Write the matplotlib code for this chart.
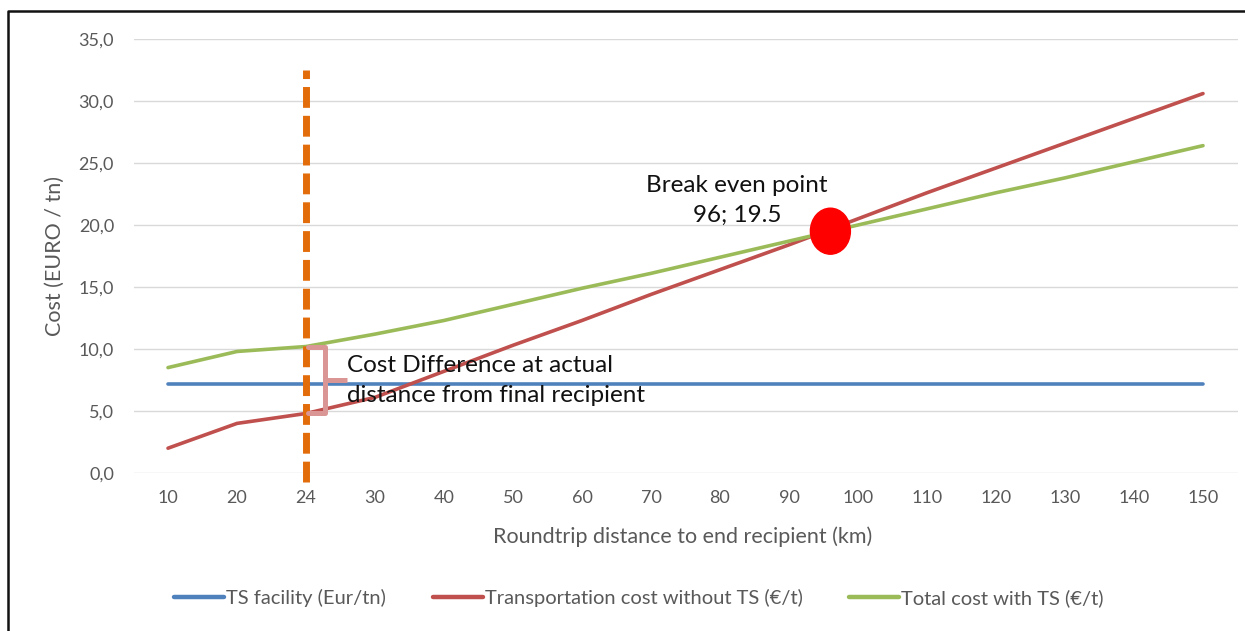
import numpy as np
import matplotlib
matplotlib.use("Agg")
import matplotlib.pyplot as plt
from matplotlib.patches import Ellipse
from matplotlib.lines import Line2D
from matplotlib.ticker import FuncFormatter

plt.rcParams["font.family"] = ["Lato", "DejaVu Sans"]

# Roundtrip distances (km), shown as equally spaced categories
distances = [10, 20, 24, 30, 40, 50, 60, 70, 80, 90, 100, 110, 120, 130, 140, 150]
ts_facility = [7.2, 7.2, 7.2, 7.2, 7.2, 7.2, 7.2, 7.2, 7.2, 7.2, 7.2, 7.2, 7.2, 7.2, 7.2, 7.2]
transport_no_ts = [2.0, 4.0, 4.8, 6.1, 8.2, 10.3, 12.3, 14.4, 16.4, 18.4, 20.5, 22.6, 24.6, 26.6, 28.6, 30.6]
total_with_ts = [8.5, 9.8, 10.2, 11.2, 12.3, 13.6, 14.9, 16.1, 17.4, 18.7, 20.0, 21.3, 22.6, 23.8, 25.1, 26.4]

series_names = ["TS facility (Eur/tn)", "Transportation cost without TS (€/t)", "Total cost with TS (€/t)"]
series_colors = ["#4F81BD", "#C0504D", "#9BBB59"]

actual_distance = 24
break_even = (96, 19.5)

y_ticks = [0, 5, 10, 15, 20, 25, 30, 35]

GREY = "#595959"

W, H = 1245, 631
fig = plt.figure(figsize=(W / 100, H / 100), dpi=100)
ax = fig.add_axes([133.5 / W, 1 - 473 / H, 1104 / W, 434 / H])

pos = np.arange(len(distances))

def cat_x(d):
    return np.interp(d, distances, pos)

# gridlines
ax.set_yticks(y_ticks)
ax.set_ylim(0, 35)
ax.set_xlim(-0.5, len(distances) - 0.5)
ax.grid(axis="y", color="#D9D9D9", lw=1.0)
ax.set_axisbelow(True)
for s in ax.spines.values():
    s.set_visible(False)

for vals, col in zip([ts_facility, transport_no_ts, total_with_ts], series_colors):
    ax.plot(pos, vals, color=col, lw=2.6, solid_capstyle="round", zorder=3)

# vertical marker at the actual distance
xa = cat_x(actual_distance)
ax.plot([xa, xa], [-0.7, 32.5], color="#E36C0A", lw=5, linestyle=(0, (3.0, 1.15)),
        clip_on=False, zorder=4)

# brace spanning the cost difference at the actual distance
i24 = distances.index(actual_distance)
top = total_with_ts[i24]
bot = transport_no_ts[i24]
mid = (top + bot) / 2
bx0, bx1, bx2 = xa + 0.03, xa + 0.28, xa + 0.6
ax.plot([bx0, bx1, bx1, bx0], [top, top, bot, bot], color="#DA9694", lw=3.6,
        solid_joinstyle="round", solid_capstyle="round", zorder=5)
ax.plot([bx1, bx2], [mid, mid], color="#DA9694", lw=3.6, solid_capstyle="butt", zorder=5)
ax.text(xa + 0.6, 7.45, "Cost Difference at actual\ndistance from final recipient",
        fontsize=17.5, color="#111111", ha="left", va="center", linespacing=1.5, zorder=6)

# break-even marker
bx, by = cat_x(break_even[0]), break_even[1]
ax.add_patch(Ellipse((bx, by), width=40 / 69, height=46 / 12.4, color="#FF0000", zorder=6))
ax.text(cat_x(82.5), 22.0, "Break even point\n96; 19.5", fontsize=17.5,
        color="#111111", ha="center", va="center", linespacing=1.5, zorder=6)

# axes labelling
ax.set_xticks(pos)
ax.set_xticklabels([str(d) for d in distances])
ax.yaxis.set_major_formatter(FuncFormatter(lambda v, p: f"{v:.1f}".replace(".", ",")))
ax.tick_params(axis="both", length=0, labelsize=13, labelcolor=GREY)
ax.tick_params(axis="y", pad=14)
ax.tick_params(axis="x", pad=12)

ax.set_ylabel("Cost (EURO / tn)", fontsize=15.5, color=GREY, va="center")
ax.yaxis.set_label_coords((55 - 133.5) / 1104, (473 - 256) / 434)
ax.set_xlabel("Roundtrip distance to end recipient (km)", fontsize=15.5, color=GREY, va="center")
ax.xaxis.set_label_coords((683 - 133.5) / 1104, (473 - 537) / 434)

handles = [Line2D([], [], color=c, lw=3.2, solid_capstyle="round") for c in series_colors]
fig.legend(handles, series_names, loc="center", bbox_to_anchor=(639 / W, 1 - 598 / H),
           ncol=3, frameon=False, fontsize=14.5, labelcolor=GREY,
           handlelength=2.5, handletextpad=0.1, columnspacing=2.3)

# frame around the chart
fig.add_artist(Line2D([7.5 / W, 7.5 / W, 1.0], [0.0, 1 - 10.5 / H, 1 - 10.5 / H],
                      transform=fig.transFigure, color="#111111", lw=1.8))

fig.savefig("out.png", dpi=100)
